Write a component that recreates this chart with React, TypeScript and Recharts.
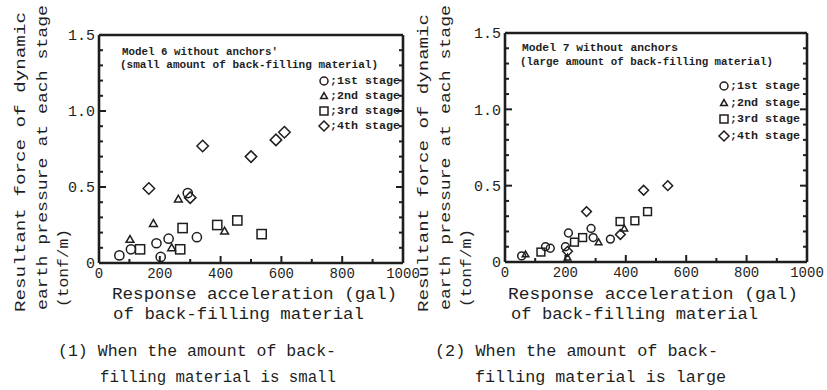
import { ScatterChart, Scatter, XAxis, YAxis } from 'recharts'

const INK = '#1e1e1e'
const FONT = '"Liberation Mono", "DejaVu Sans Mono", monospace'

const xTicks = [0, 100, 200, 300, 400, 500, 600, 700, 800, 900, 1000]
const xLabels = [0, 200, 400, 600, 800, 1000]
const yTicks = [0, 0.1, 0.2, 0.3, 0.4, 0.5, 0.6, 0.7, 0.8, 0.9, 1, 1.1, 1.2, 1.3, 1.4, 1.5]
const yLabels = [0, 0.5, 1, 1.5]

const stageNames = [';1st stage', ';2nd stage', ';3rd stage', ';4th stage']

// Model 6, small amount of back-filling material
const smallStage1 = [
  { x: 67, y: 0.05 }, { x: 105, y: 0.09 }, { x: 189, y: 0.13 }, { x: 203, y: 0.04 },
  { x: 229, y: 0.16 }, { x: 292, y: 0.46 }, { x: 322, y: 0.17 },
]
const smallStage2 = [
  { x: 102, y: 0.155 }, { x: 179, y: 0.26 }, { x: 239, y: 0.1 }, { x: 261, y: 0.42 }, { x: 413, y: 0.21 },
]
const smallStage3 = [
  { x: 135, y: 0.09 }, { x: 267, y: 0.09 }, { x: 275, y: 0.23 }, { x: 389, y: 0.25 },
  { x: 455, y: 0.28 }, { x: 535, y: 0.19 },
]
const smallStage4 = [
  { x: 164, y: 0.49 }, { x: 300, y: 0.43 }, { x: 341, y: 0.77 }, { x: 500, y: 0.7 },
  { x: 582, y: 0.81 }, { x: 610, y: 0.86 },
]

// Model 7, large amount of back-filling material
const largeStage1 = [
  { x: 55, y: 0.04 }, { x: 134, y: 0.1 }, { x: 150, y: 0.09 }, { x: 200, y: 0.1 },
  { x: 210, y: 0.19 }, { x: 285, y: 0.22 }, { x: 292, y: 0.16 }, { x: 349, y: 0.15 },
]
const largeStage2 = [
  { x: 68, y: 0.05 }, { x: 207, y: 0.03 }, { x: 310, y: 0.13 }, { x: 395, y: 0.22 },
]
const largeStage3 = [
  { x: 119, y: 0.065 }, { x: 230, y: 0.13 }, { x: 257, y: 0.16 }, { x: 381, y: 0.265 },
  { x: 430, y: 0.27 }, { x: 472, y: 0.33 },
]
const largeStage4 = [
  { x: 207, y: 0.07 }, { x: 270, y: 0.33 }, { x: 382, y: 0.18 }, { x: 459, y: 0.47 }, { x: 539, y: 0.5 },
]

type Kind = 'circle' | 'triangle' | 'square' | 'diamond'
const kinds: Kind[] = ['circle', 'triangle', 'square', 'diamond']

function Marker({ cx, cy, kind, s }: { cx: number; cy: number; kind: Kind; s: number }) {
  const st = { fill: 'none', stroke: INK, strokeWidth: 1.5 }
  if (kind === 'circle') return <circle cx={cx} cy={cy} r={s} {...st} />
  if (kind === 'square') return <rect x={cx - s} y={cy - s} width={2 * s} height={2 * s} {...st} />
  if (kind === 'triangle') {
    const r = s * 0.85
    return <polygon points={`${cx},${cy - r} ${cx + r},${cy + r * 0.75} ${cx - r},${cy + r * 0.75}`} {...st} />
  }
  const r = s * 1.25
  return <polygon points={`${cx},${cy - r} ${cx + r},${cy} ${cx},${cy + r} ${cx - r},${cy}`} {...st} />
}

type Side = 'bottom' | 'top' | 'left' | 'right'

// inward tick marks, longer at labelled values, labels only on bottom/left
const makeTick = (side: Side) => (p: any) => {
  const v = p.payload.value
  const vertical = side === 'left' || side === 'right'
  const major = vertical ? yLabels.includes(v) : xLabels.includes(v)
  const len = major ? 7 : 4
  const x = p.x
  const y = p.y
  if (side === 'bottom') {
    return (
      <g>
        <line x1={x} y1={y} x2={x} y2={y - len} stroke={INK} strokeWidth={2} />
        {major && (
          <text x={x} y={y + 15} textAnchor="middle" fontFamily={FONT} fontSize={14} fill={INK}>
            {String(v)}
          </text>
        )}
      </g>
    )
  }
  if (side === 'top') return <line x1={x} y1={y} x2={x} y2={y + len} stroke={INK} strokeWidth={2} />
  if (side === 'right') return <line x1={x} y1={y} x2={x - len} y2={y} stroke={INK} strokeWidth={2} />
  return (
    <g>
      <line x1={x} y1={y} x2={x + len} y2={y} stroke={INK} strokeWidth={2} />
      {major && (
        <text x={x - 4} y={y} dy="0.36em" textAnchor="end" fontFamily={FONT} fontSize={15} fill={INK}>
          {v === 0 ? '0' : v.toFixed(1)}
        </text>
      )}
    </g>
  )
}

function Panel({
  series,
  margin,
  size,
}: {
  series: { x: number; y: number }[][]
  margin: { top: number; right: number; bottom: number; left: number }
  size: number
}) {
  return (
    <ScatterChart width={827} height={390} margin={margin}>
      <XAxis
        xAxisId="b"
        type="number"
        dataKey="x"
        domain={[0, 1000]}
        allowDataOverflow
        ticks={xTicks}
        interval={0}
        tickSize={0}
        tickMargin={0}
        tickLine={false}
        stroke={INK}
        strokeWidth={2.6}
        tick={makeTick('bottom')}
        height={30}
      />
      <XAxis
        xAxisId="t"
        orientation="top"
        type="number"
        domain={[0, 1000]}
        allowDataOverflow
        ticks={xTicks}
        interval={0}
        tickSize={0}
        tickMargin={0}
        tickLine={false}
        stroke={INK}
        strokeWidth={2.6}
        tick={makeTick('top')}
        height={1}
      />
      <YAxis
        yAxisId="l"
        type="number"
        dataKey="y"
        domain={[0, 1.5]}
        allowDataOverflow
        ticks={yTicks}
        interval={0}
        tickSize={0}
        tickMargin={0}
        tickLine={false}
        stroke={INK}
        strokeWidth={2.6}
        tick={makeTick('left')}
        width={40}
      />
      <YAxis
        yAxisId="r"
        orientation="right"
        type="number"
        domain={[0, 1.5]}
        allowDataOverflow
        ticks={yTicks}
        interval={0}
        tickSize={0}
        tickMargin={0}
        tickLine={false}
        stroke={INK}
        strokeWidth={2.6}
        tick={makeTick('right')}
        width={1}
      />
      {series.map((data, i) => (
        <Scatter
          key={i}
          xAxisId="b"
          yAxisId="l"
          data={data}
          isAnimationActive={false}
          shape={(p: any) => <Marker cx={p.cx} cy={p.cy} kind={kinds[i]} s={size} />}
        />
      ))}
    </ScatterChart>
  )
}

function VText({ x, y, len, children }: { x: number; y: number; len: number; children: string }) {
  return (
    <text
      transform={`translate(${x},${y}) rotate(-90)`}
      dominantBaseline="central"
      textLength={len}
      lengthAdjust="spacingAndGlyphs"
      fontFamily={FONT}
      fontSize={15}
      fill={INK}
    >
      {children}
    </text>
  )
}

function HText({
  x, y, len, size = 16, bold = false, children,
}: { x: number; y: number; len: number; size?: number; bold?: boolean; children: string }) {
  return (
    <text
      x={x}
      y={y}
      dominantBaseline="central"
      textLength={len}
      lengthAdjust="spacingAndGlyphs"
      fontFamily={FONT}
      fontSize={size}
      fontWeight={bold ? 'bold' : 'normal'}
      fill={INK}
    >
      {children}
    </text>
  )
}

function StageLegend({ x, rows, size }: { x: number; rows: number[]; size: number }) {
  return (
    <g>
      {stageNames.map((name, i) => (
        <g key={name}>
          <Marker cx={x} cy={rows[i]} kind={kinds[i]} s={size} />
          <HText x={x + 6} y={rows[i]} len={70} size={10} bold>
            {name}
          </HText>
        </g>
      ))}
    </g>
  )
}

export default function App() {
  return (
    <div style={{ position: 'absolute', left: 0, top: 0, width: 827, height: 390, background: '#fff' }}>
      <div style={{ position: 'absolute', left: 0, top: 0 }}>
        <Panel
          series={[smallStage1, smallStage2, smallStage3, smallStage4]}
          margin={{ top: 34, right: 423, bottom: 97, left: 59 }}
          size={4.6}
        />
      </div>
      <div style={{ position: 'absolute', left: 0, top: 0 }}>
        <Panel
          series={[largeStage1, largeStage2, largeStage3, largeStage4]}
          margin={{ top: 32, right: 19, bottom: 98, left: 465 }}
          size={3.9}
        />
      </div>
      <svg width={827} height={390} style={{ position: 'absolute', left: 0, top: 0 }}>
        {/* left panel */}
        <VText x={21} y={312} len={300}>Resultant force of dynamic</VText>
        <VText x={43} y={310} len={305}>earth pressure at each stage</VText>
        <VText x={64} y={307} len={78}>(tonf/m)</VText>
        <HText x={122} y={52} len={156} size={10} bold>Model 6 without anchors'</HText>
        <HText x={120} y={65} len={258} size={10} bold>(small amount of back-filling material)</HText>
        <StageLegend x={324} rows={[81, 96, 111, 126]} size={4} />
        <HText x={112} y={295} len={285}>Response acceleration (gal)</HText>
        <HText x={113} y={315} len={251}>of back-filling material</HText>
        <HText x={58} y={352} len={278}>(1) When the amount of back-</HText>
        <HText x={100} y={378} len={236}>filling material is small</HText>

        {/* right panel */}
        <VText x={424} y={312} len={298}>Resultant force of dynamic</VText>
        <VText x={446} y={310} len={305}>earth pressure at each stage</VText>
        <VText x={467} y={307} len={78}>(tonf/m)</VText>
        <HText x={522} y={48} len={156} size={10} bold>Model 7 without anchors</HText>
        <HText x={520} y={62} len={253} size={10} bold>(large amount of back-filling material)</HText>
        <StageLegend x={724} rows={[86, 103, 119, 136]} size={4} />
        <HText x={508} y={295} len={290}>Response acceleration (gal)</HText>
        <HText x={511} y={315} len={247}>of back-filling material</HText>
        <HText x={435} y={352} len={283}>(2) When the amount of back-</HText>
        <HText x={475} y={378} len={251}>filling material is large</HText>
      </svg>
    </div>
  )
}
